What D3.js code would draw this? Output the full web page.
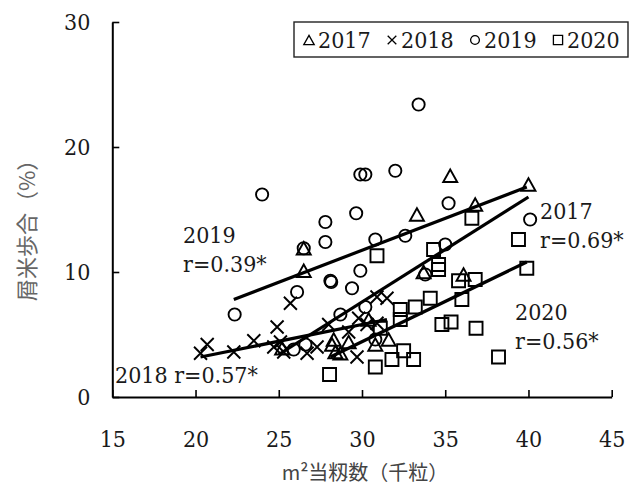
<!DOCTYPE html>
<html>
<head>
<meta charset="utf-8">
<script src="https://cdn.jsdelivr.net/npm/d3@7"></script>
<style>
  body { margin: 0; background: #fff; }
  svg { display: block; }
</style>
</head>
<body>
<svg id="chart" width="643" height="488"></svg>
<script>
// Spikelets per m² (thousand) vs. percentage of chalky/scrap rice, by year
const xTicks = [15, 20, 25, 30, 35, 40, 45];
const yTicks = [0, 10, 20, 30];
const years = ["2017", "2018", "2019", "2020"];
const rValues = ["0.69", "0.57", "0.39", "0.56"];

// [spikelets per m² (thousand), rate (%)]
const pts2017 = [
  [26.5, 11.9], [26.5, 10.1], [33.3, 14.6], [35.3, 17.7], [40.0, 17.0],
  [36.8, 15.4], [33.7, 10.0], [36.1, 9.8], [28.3, 4.6], [28.2, 4.2],
  [28.4, 3.6], [28.7, 3.5], [29.2, 4.4], [30.4, 6.2], [30.8, 4.2],
  [31.6, 4.6], [25.2, 3.9]
];
const pts2018 = [
  [20.3, 3.5], [20.7, 4.2], [22.3, 3.6], [23.5, 4.5], [24.9, 5.6],
  [24.7, 4.0], [25.1, 4.4], [25.3, 3.6], [25.7, 7.5], [26.7, 3.5],
  [27.3, 4.0], [28.0, 5.8], [29.2, 5.2], [29.7, 3.2], [29.8, 6.3],
  [30.3, 5.8], [30.9, 5.9], [30.9, 8.0], [31.5, 7.9]
];
const pts2019 = [
  [24.0, 16.2], [29.9, 17.8], [30.2, 17.8], [32.0, 18.1], [33.4, 23.4],
  [29.65, 14.7], [27.8, 14.0], [27.8, 12.4], [26.5, 11.9], [30.8, 12.6],
  [32.6, 12.9], [35.2, 15.5], [35.0, 12.2], [40.1, 14.2], [33.8, 9.8],
  [29.9, 10.1], [28.1, 9.3], [28.15, 9.2], [29.4, 8.7], [26.1, 8.4],
  [22.35, 6.6], [28.7, 6.6], [30.2, 7.2], [25.9, 3.8], [26.6, 4.2],
  [30.8, 4.6]
];
const pts2020 = [
  [30.9, 11.3], [36.6, 14.3], [39.4, 12.6], [34.3, 11.8], [34.6, 10.6],
  [34.6, 10.2], [35.8, 9.3], [36.8, 9.4], [39.9, 10.3], [36.0, 7.8],
  [34.1, 7.9], [33.2, 7.2], [32.3, 7.0], [32.3, 6.2], [34.8, 5.8],
  [35.35, 6.0], [36.85, 5.5], [31.1, 5.5], [38.2, 3.2], [32.5, 3.7],
  [31.8, 3.0], [33.1, 3.0], [30.8, 2.4], [28.05, 1.8]
];

// Fitted regression segments, [x, y] at each end of the data range
const fit2017 = [[25.0, 3.4], [40.0, 16.0]];
const fit2018 = [[20.3, 3.2], [31.5, 6.2]];
const fit2019 = [[22.3, 7.8], [39.9, 16.8]];
const fit2020 = [[28.1, 3.2], [39.9, 10.8]];

const svg = d3.select("#chart");
const x = d3.scaleLinear().domain([15, 45]).range([112.3, 611.7]);
const y = d3.scaleLinear().domain([0, 30]).range([397, 22]);

const serif = "'DejaVu Serif Condensed', 'DejaVu Serif', serif";
const cjk = "'Noto Sans CJK JP', 'Noto Sans CJK SC', sans-serif";
const numSize = 23;

svg.append("rect").attr("width", 643).attr("height", 488).attr("fill", "#fff");

// marker outlines
const shape = {
  tri: (w, h) => `M0,${-h}L${w},${h}L${-w},${h}Z`,
  cross: c => `M${-c},${-c}L${c},${c}M${-c},${c}L${c},${-c}`,
  circle: r => `M${r},0A${r},${r} 0 1,1 ${-r},0A${r},${r} 0 1,1 ${r},0Z`,
  square: s => `M${-s},${-s}h${2 * s}v${2 * s}h${-2 * s}Z`
};
const markerPath = [
  shape.tri(7, 6.2),
  shape.cross(6.5),
  shape.circle(6.1),
  shape.square(6.5)
];
const legendPath = [
  shape.tri(5.2, 4.6),
  shape.cross(4.3),
  shape.circle(4.4),
  shape.square(4.6)
];

// axes
const xAxis = d3.axisBottom(x).tickValues(xTicks).tickSizeInner(-7).tickSizeOuter(0).tickPadding(34);
const yAxis = d3.axisLeft(y).tickValues(yTicks).tickSizeInner(-7).tickSizeOuter(0).tickPadding(22);

const gx = svg.append("g").attr("transform", `translate(0,${y(0)})`).call(xAxis);
const gy = svg.append("g").attr("transform", `translate(${x(15)},0)`).call(yAxis);
[gx, gy].forEach(g => {
  g.selectAll("path.domain").attr("stroke", "#000").attr("stroke-width", 2);
  g.selectAll(".tick line").attr("stroke", "#000").attr("stroke-width", 1.6);
  g.selectAll(".tick text")
    .attr("font-family", serif)
    .attr("font-stretch", "condensed")
    .attr("font-size", numSize)
    .attr("fill", "#1a1a1a");
});

// regression lines
const line = d3.line().x(d => x(d[0])).y(d => y(d[1]));
[fit2017, fit2018, fit2019, fit2020].forEach(f => {
  svg.append("path")
    .attr("d", line(f))
    .attr("fill", "none")
    .attr("stroke", "#000")
    .attr("stroke-width", 3.2)
    .attr("stroke-linecap", "butt");
});

// points
[pts2017, pts2018, pts2019, pts2020].forEach((pts, i) => {
  svg.append("g")
    .selectAll("path")
    .data(pts)
    .join("path")
    .attr("transform", d => `translate(${x(d[0])},${y(d[1])})`)
    .attr("d", markerPath[i])
    .attr("fill", "none")
    .attr("stroke", "#000")
    .attr("stroke-width", 1.9);
});

// regression annotations
function note(lines, px, py) {
  const t = svg.append("text")
    .attr("font-family", serif)
    .attr("font-stretch", "condensed")
    .attr("font-size", numSize)
    .attr("fill", "#1a1a1a");
  lines.forEach((s, k) => {
    t.append("tspan").attr("x", px).attr("y", py + k * 29).text(s);
  });
}
note([years[2], `r=${rValues[2]}*`], 183, 243);
note([years[0], `r=${rValues[0]}*`], 540, 219);
note([years[3], `r=${rValues[3]}*`], 515, 320);
note([`${years[1]} r=${rValues[1]}*`], 115, 383);

// legend
const lg = svg.append("g");
lg.append("rect")
  .attr("x", 294).attr("y", 22).attr("width", 334).attr("height", 35)
  .attr("fill", "#fff").attr("stroke", "#222").attr("stroke-width", 1.4);
years.forEach((yr, i) => {
  const cx = 309 + i * 83;
  lg.append("path")
    .attr("transform", `translate(${cx},40)`)
    .attr("d", legendPath[i])
    .attr("fill", "none").attr("stroke", "#000").attr("stroke-width", 1.3);
  lg.append("text")
    .attr("x", cx + 9).attr("y", 48)
    .attr("font-family", serif).attr("font-stretch", "condensed")
    .attr("font-size", numSize).attr("fill", "#1a1a1a")
    .text(yr);
});

// axis titles
svg.append("text")
  .attr("x", 365).attr("y", 480)
  .attr("text-anchor", "middle")
  .attr("font-family", cjk).attr("font-size", 20).attr("fill", "#444")
  .text("m²当籾数（千粒）");

svg.append("text")
  .attr("transform", "translate(35,225) rotate(-90)")
  .attr("text-anchor", "middle")
  .attr("font-family", cjk).attr("font-size", 22).attr("fill", "#666")
  .text("屑米歩合（%）");
</script>
</body>
</html>
